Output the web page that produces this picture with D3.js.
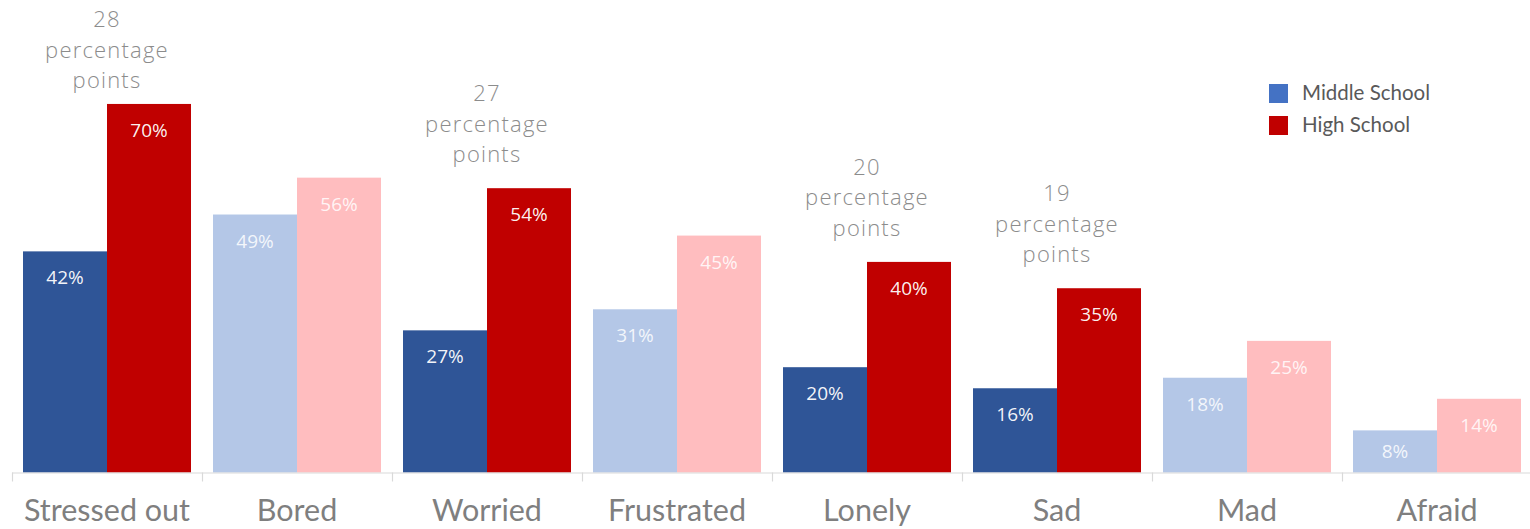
<!DOCTYPE html>
<html>
<head>
<meta charset="utf-8">
<script src="https://cdn.jsdelivr.net/npm/d3@7"></script>
<style>
  html, body { margin: 0; padding: 0; background: #fff; }
  svg { display: block; }
</style>
</head>
<body>
<svg id="chart" width="1530" height="529"></svg>
<script>
// Feelings reported by students, middle school vs high school (%)
const categories = ["Stressed out", "Bored", "Worried", "Frustrated", "Lonely", "Sad", "Mad", "Afraid"];
const middleSchool = [42, 49, 27, 31, 20, 16, 18, 8];
const highSchool   = [70, 56, 54, 45, 40, 35, 25, 14];
// groups where the gap between the two levels is called out
const highlighted  = [true, false, true, false, true, true, false, false];
const seriesNames  = ["Middle School", "High School"];

const W = 1530, H = 529;
const baseline = 472.5;
const svg = d3.select("#chart");

const x = d3.scaleBand().domain(categories).range([12, 1532]).paddingInner(0).paddingOuter(0);
const xs = d3.scaleBand().domain(["ms", "hs"]).range([0, x.bandwidth()]).paddingInner(0).paddingOuter(0.131);
const y = d3.scaleLinear().domain([0, 89]).range([baseline, baseline - 89 * 5.265]);

const colors = {
  ms: { strong: "#2F5597", soft: "#B4C7E7" },
  hs: { strong: "#C00000", soft: "#FFBDBF" }
};

const rows = categories.map((c, i) => ({
  cat: c, ms: middleSchool[i], hs: highSchool[i], hl: highlighted[i]
}));

// bars
const groups = svg.append("g").selectAll("g")
  .data(rows).join("g")
  .attr("transform", d => `translate(${x(d.cat)},0)`);

["ms", "hs"].forEach(key => {
  groups.append("rect")
    .attr("x", xs(key))
    .attr("width", xs.bandwidth())
    .attr("y", d => y(d[key]))
    .attr("height", d => y(0) - y(d[key]))
    .attr("fill", d => d.hl ? colors[key].strong : colors[key].soft);

  groups.append("text")
    .attr("x", xs(key) + xs.bandwidth() / 2)
    .attr("y", d => Math.min(y(d[key]) + 26, (y(d[key]) + y(0)) / 2) + 7)
    .attr("text-anchor", "middle")
    .attr("font-family", "'Open Sans', sans-serif")
    .attr("font-size", 19)
    .attr("fill", "#ffffff")
    .attr("fill-opacity", d => d.hl ? 0.95 : 0.85)
    .text(d => d[key] + "%");
});

// gap call-outs above the highlighted groups, one text per line
groups.filter(d => d.hl).each(function(d) {
  const top = y(d.hs);
  const last = Math.max(top - 26, 88);
  const lines = [String(d.hs - d.ms), "percentage", "points"];
  d3.select(this).selectAll("text.gap")
    .data(lines).join("text")
    .attr("class", "gap")
    .attr("x", x.bandwidth() / 2)
    .attr("y", (ln, k) => last - (lines.length - 1 - k) * 30.5)
    .attr("text-anchor", "middle")
    .attr("font-family", "'Open Sans', sans-serif")
    .attr("font-weight", 300)
    .attr("font-size", 22)
    .attr("letter-spacing", 1.2)
    .attr("fill", "#8C8C8C")
    .text(ln => ln);
});

// category axis
const axisG = svg.append("g")
  .attr("transform", `translate(0,${baseline})`)
  .call(d3.axisBottom(x).tickSize(0).tickPadding(0));
axisG.select(".domain").remove();
axisG.append("line")
  .attr("x1", 12).attr("x2", W)
  .attr("y1", 0.5).attr("y2", 0.5)
  .attr("stroke", "#D9D9D9").attr("stroke-width", 1.2);
axisG.selectAll(".boundary")
  .data(categories).join("line")
  .attr("class", "boundary")
  .attr("x1", d => Math.round(x(d)) + 0.5).attr("x2", d => Math.round(x(d)) + 0.5)
  .attr("y1", 0).attr("y2", 9)
  .attr("stroke", "#D9D9D9").attr("stroke-width", 1.2);
axisG.selectAll(".tick text")
  .attr("dy", null)
  .attr("y", 48.5)
  .attr("font-family", "Lato, sans-serif")
  .attr("font-size", 30.5)
  .attr("fill", "#7F7F7F");

// legend
const legend = svg.append("g").attr("transform", "translate(1269,84)");
const legendColors = ["#4472C4", "#C00000"];
seriesNames.forEach((name, i) => {
  const g = legend.append("g").attr("transform", `translate(0,${i * 32})`);
  g.append("rect").attr("width", 19).attr("height", 19).attr("fill", legendColors[i]);
  g.append("text")
    .attr("x", 33).attr("y", 16)
    .attr("font-family", "Lato, sans-serif")
    .attr("font-size", 20.5)
    .attr("fill", "#595959")
    .text(name);
});
</script>
</body>
</html>
